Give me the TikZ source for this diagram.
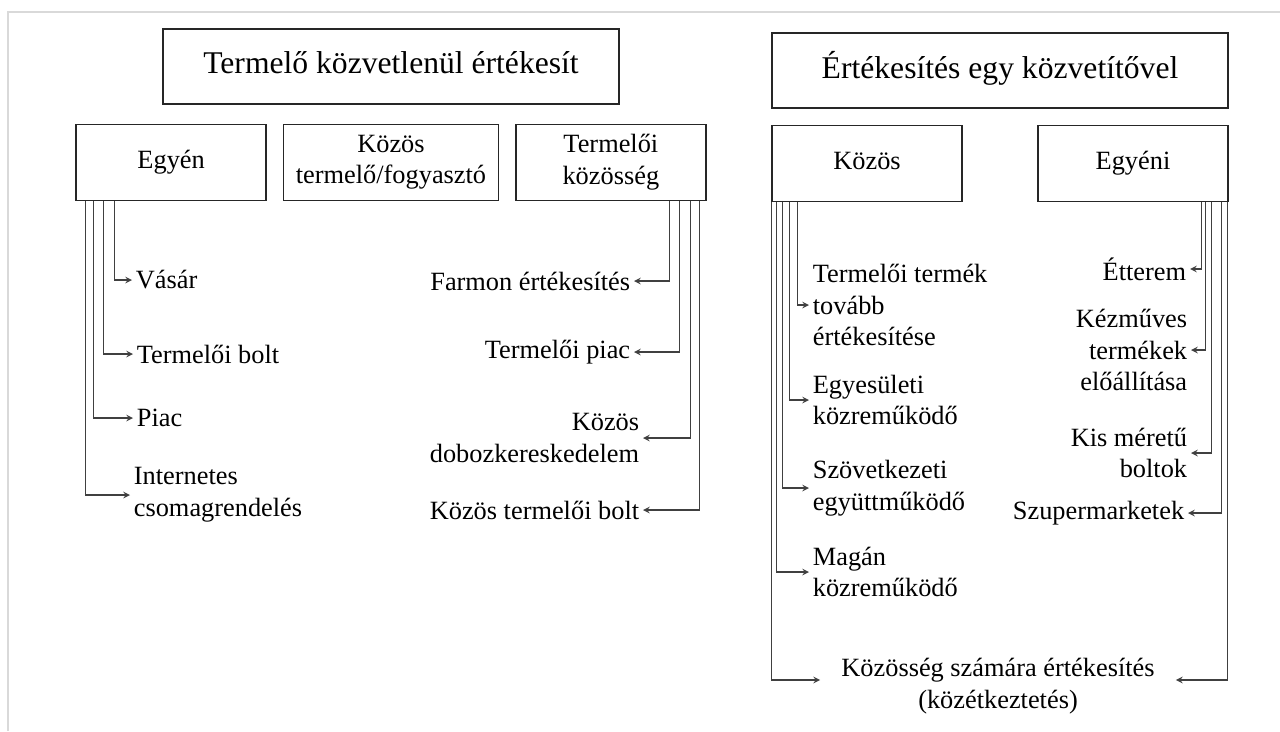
\documentclass[tikz,border=0pt]{standalone}
\usepackage{fontspec}
\setmainfont{Liberation Serif}
\usetikzlibrary{arrows,positioning,calc}

\begin{document}
\begin{tikzpicture}[
        x=0.02cm, y=-0.02cm,
        node distance=0.32cm,
        box/.style={rectangle, draw=black!85, line width=0.8pt, minimum width=3.8cm, minimum height=1.52cm, align=center, font=\fontsize{15}{18}\selectfont},
        bigbox/.style={rectangle, draw=black!85, line width=0.8pt, minimum width=9.12cm, minimum height=1.5cm, align=center, font=\fontsize{18}{21}\selectfont},
        lbl/.style={inner sep=2pt, font=\fontsize{15}{18}\selectfont},
        arrow/.style={->, >=stealth, draw=black!75, line width=0.7pt},
        frame/.style={draw=black!15, line width=1.1pt}
    ]
    \useasboundingbox (0,0) rectangle (1280,731);
    \draw[frame] (8,731) |- (1280,12);

    % Direct selling
    \node[bigbox] (termelo) at (391,66.5) {\strut Termelő közvetlenül értékesít};
    \node[box, minimum width=4.3cm, below=0.38cm of termelo] (kozostf) {Közös\\termelő/fogyasztó};
    \node[box, left=of kozostf] (egyen) {\strut Egyén};
    \node[box, right=of kozostf] (termkoz) {Termelői\\közösség};

    % Selling through an intermediary
    \node[bigbox] (ertek) at (1000,70.5) {\strut Értékesítés egy közvetítővel};
    \node[box, below right=0.32cm and 0cm of ertek.south west] (kozos) {\strut Közös};
    \node[box, below left=0.32cm and 0cm of ertek.south east] (egyeni) {\strut Egyéni};

    % Egyén leaves
    \node[lbl, anchor=west] (vasar) at (132,280) {Vásár};
    \node[lbl, anchor=west] (tbolt) at (133,354) {Termelői bolt};
    \node[lbl, anchor=west] (piac) at (133,418) {Piac};
    \node[lbl, anchor=west, align=left] (internet) at (130,495) {Internetes\\csomagrendelés};

    \draw[arrow] ($(egyen.south west)+(39,0)$) |- (vasar);
    \draw[arrow] ($(egyen.south west)+(28,0)$) |- (tbolt);
    \draw[arrow] ($(egyen.south west)+(18,0)$) |- (piac);
    \draw[arrow] ($(egyen.south west)+(10,0)$) |- (internet);

    % Termelői közösség leaves
    \node[lbl, anchor=east] (farmon) at (634,281) {Farmon értékesítés};
    \node[lbl, anchor=east] (tpiac) at (634,352) {Termelői piac};
    \node[lbl, anchor=east, align=right] (doboz) at (643,438) {Közös\\dobozkereskedelem};
    \node[lbl, anchor=east] (kozbolt) at (643,510) {Közös termelői bolt};

    \draw[arrow] ($(termkoz.south east)+(-37,0)$) |- (farmon);
    \draw[arrow] ($(termkoz.south east)+(-27,0)$) |- (tpiac);
    \draw[arrow] ($(termkoz.south east)+(-16,0)$) |- (doboz);
    \draw[arrow] ($(termkoz.south east)+(-7,0)$) |- (kozbolt);

    % Közös leaves
    \node[lbl, anchor=west, align=left] (tovabb) at (809,305) {Termelői termék\\tovább\\értékesítése};
    \node[lbl, anchor=west, align=left] (egyes) at (809,400) {Egyesületi\\közreműködő};
    \node[lbl, anchor=west, align=left] (szov) at (809,488) {Szövetkezeti\\együttműködő};
    \node[lbl, anchor=west, align=left] (magan) at (809,572) {Magán\\közreműködő};

    \draw[arrow] ($(kozos.south west)+(26,0)$) |- (tovabb);
    \draw[arrow] ($(kozos.south west)+(18,0)$) |- (egyes);
    \draw[arrow] ($(kozos.south west)+(11,0)$) |- (szov);
    \draw[arrow] ($(kozos.south west)+(5,0)$) |- (magan);

    % Egyéni leaves
    \node[lbl, anchor=east] (etterem) at (1190,269) {Étterem};
    \node[lbl, anchor=east, align=right] (kezmu) at (1191,350) {Kézműves\\termékek\\előállítása};
    \node[lbl, anchor=east, align=right] (kis) at (1191,453) {Kis méretű\\boltok};
    \node[lbl, anchor=east] (szuper) at (1188,513) {Szupermarketek};

    \draw[arrow] ($(egyeni.south east)+(-27,0)$) |- (etterem);
    \draw[arrow] ($(egyeni.south east)+(-23,0)$) |- (kezmu);
    \draw[arrow] ($(egyeni.south east)+(-17,0)$) |- (kis);
    \draw[arrow] ($(egyeni.south east)+(-7,0)$) |- (szuper);

    % Shared leaf
    \node[lbl, align=center, inner xsep=0.42cm] (kozosseg) at (998,686) {Közösség számára értékesítés\\(közétkeztetés)};
    \draw[arrow] (kozos.south west) |- ($(kozosseg.west)+(0,-6)$);
    \draw[arrow] ($(egyeni.south east)+(-1,0)$) |- ($(kozosseg.east)+(0,-6)$);

\end{tikzpicture}
\end{document}
